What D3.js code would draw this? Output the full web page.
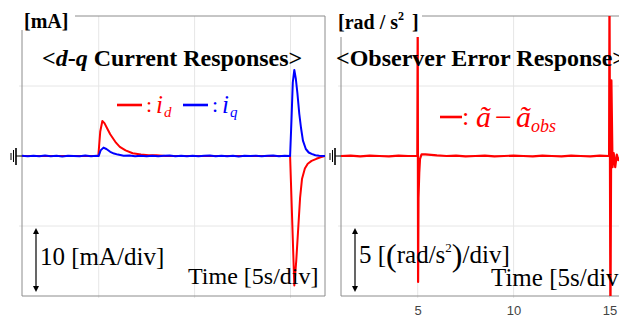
<!DOCTYPE html>
<html>
<head>
<meta charset="utf-8">
<script src="https://cdn.jsdelivr.net/npm/d3@7"></script>
<style>
  body { margin: 0; background: #fff; }
  svg { display: block; }
</style>
</head>
<body>
<svg width="619" height="321"></svg>
<script>
const svg = d3.select("svg");

// time axis shared by both scope panels [s]
const timeDomain = [1, 16.8];
const timeTicks = [5, 10, 15];

// left panel: d-q currents [mA], 10 mA/div
const currentDomain = [-20, 20];
const currentGrid = [-10, 0, 10];

const idTime = [1, 2, 3, 4, 4.98, 5.08, 5.19, 5.3, 5.45, 5.6, 5.75, 5.9, 6.1, 6.4, 6.77, 7.2, 7.6, 8.0, 8.5, 9, 10, 11, 12, 13, 14, 14.98,
  15.2, 15.3, 15.4, 15.5, 15.6, 15.75, 15.9, 16.1, 16.35, 16.6, 16.8];
const idValue = [0, 0, 0, 0, 0, 3.5, 5.0, 4.7, 3.9, 3.1, 2.5, 1.9, 1.3, 0.8, 0.4, 0.2, 0.1, 0.1, 0, 0, 0, 0, 0, 0, 0, 0,
  -18.5, -15, -10.5, -6, -3.3, -1.8, -1.1, -0.7, -0.4, -0.15, 0];

const iqTime = [1.0, 1.3, 1.6, 1.9, 2.2, 2.5, 2.8, 3.1, 3.4, 3.7, 4.0, 4.3, 4.6, 4.9, 5.0,
  5.1, 5.25, 5.4, 5.6, 5.8, 6.0, 6.3, 6.6, 6.9, 7.2, 7.5, 7.8, 8.1, 8.4, 8.7, 9.0, 9.3, 9.6, 9.9,
  10.2, 10.5, 10.8, 11.1, 11.4, 11.7, 12.0, 12.3, 12.6, 12.9, 13.2, 13.5, 13.8, 14.1, 14.4, 14.7, 14.98,
  15.05, 15.12, 15.2, 15.28, 15.36, 15.46, 15.55, 15.65, 15.8, 15.95, 16.1, 16.3, 16.5, 16.8];
const iqValue = [0.03, -0.05, 0.05, -0.03, 0.07, -0.05, 0.03, -0.07, 0.05, 0, -0.05, 0.07, -0.03, 0.03, 0,
  0.8, 1.2, 1.0, 0.6, 0.35, 0.2, 0.05, 0.07, -0.05, 0.05, -0.03, 0.05, -0.05, 0.03, 0.07, -0.05, 0.03, -0.03, 0.05,
  -0.05, 0.03, 0.07, -0.03, 0.05, -0.05, 0.03, -0.07, 0.05, 0, 0.05, -0.05, 0.03, 0.07, -0.03, 0.05, 0,
  5, 10.5, 12.3, 11, 9, 6, 4, 2.2, 1.0, 0.5, 0.3, 0.1, 0.05, 0];

// right panel: observer error [rad/s^2], 5 (rad/s^2)/div
const errDomain = [-10, 10];
const errGrid = [-5, 0, 5];

const errTime = [1.0, 1.5, 2.0, 2.5, 3.0, 3.5, 4.0, 4.5, 4.98, 5.0, 5.02, 5.04, 5.08, 5.12, 5.2, 5.4, 5.7, 6.0, 6.5,
  7, 7.5, 8, 8.5, 9, 9.5, 10, 10.5, 11, 11.5, 12, 12.5, 13, 13.5, 14, 14.5, 14.98,
  15.0, 15.05, 15.1, 15.16, 15.22, 15.3, 15.38, 15.46, 15.6, 16.0, 16.8];
const errValue = [0, 0.03, -0.03, 0.03, 0, -0.03, 0.03, 0, 0, 9.6, -9.0, -3.0, -1.2, -0.2, 0.12, 0.12, 0.08, 0.04, 0,
  0.03, -0.03, 0, 0.03, -0.03, 0, 0.03, 0, -0.03, 0.03, 0, -0.03, 0.03, 0, -0.03, 0.03, 0,
  12, -12, 5.4, -0.8, 0.2, -0.8, 0.1, -0.3, 0, 0, 0];

const serif = "'Liberation Serif', 'Times New Roman', serif";
const gridColor = "#e6e6e6";
const frameColor = "#8c8c8c";
const plotTop = 16, plotBottom = 296;

function drawPanel(cfg) {
  const g = svg.append("g");
  const x = d3.scaleLinear().domain(timeDomain).range([cfg.left, cfg.right]);
  const y = d3.scaleLinear().domain(cfg.yDomain).range([plotBottom, plotTop]);

  g.append("clipPath").attr("id", cfg.id)
    .append("rect")
    .attr("x", cfg.left).attr("y", plotTop)
    .attr("width", cfg.right - cfg.left).attr("height", plotBottom - plotTop);

  // grid
  g.selectAll(".vg").data(timeTicks).join("line")
    .attr("x1", d => x(d)).attr("x2", d => x(d))
    .attr("y1", plotTop).attr("y2", plotBottom + 2)
    .attr("stroke", gridColor);
  g.selectAll(".hg").data(cfg.yGrid).join("line")
    .attr("x1", cfg.left - 3).attr("x2", cfg.right)
    .attr("y1", d => y(d)).attr("y2", d => y(d))
    .attr("stroke", gridColor);

  // frame
  const frame = g.append("g").attr("stroke", frameColor).attr("fill", "none");
  frame.append("line").attr("x1", cfg.left).attr("x2", cfg.left).attr("y1", plotTop).attr("y2", plotBottom);
  frame.append("line").attr("x1", cfg.left).attr("x2", cfg.right).attr("y1", plotBottom).attr("y2", plotBottom);
  frame.append("line").attr("x1", cfg.left).attr("x2", cfg.right).attr("y1", plotTop).attr("y2", plotTop);
  frame.append("line").attr("x1", cfg.right).attr("x2", cfg.right).attr("y1", plotTop).attr("y2", plotBottom);

  // traces
  const line = d3.line().x(d => x(d[0])).y(d => y(d[1]));
  const traces = g.append("g").attr("clip-path", `url(#${cfg.id})`);
  cfg.series.forEach(s => {
    traces.append("path")
      .datum(d3.zip(s.time, s.value))
      .attr("d", line)
      .attr("fill", "none")
      .attr("stroke", s.color)
      .attr("stroke-width", s.width || 2)
      .attr("stroke-linejoin", "round");
  });

  // ground marker at the zero level
  const gx = cfg.left, gy = y(0);
  const gnd = g.append("g").attr("stroke", "#000");
  gnd.append("line").attr("x1", gx - 6).attr("x2", gx).attr("y1", gy).attr("y2", gy);
  gnd.append("line").attr("x1", gx - 6).attr("x2", gx - 6).attr("y1", gy - 8).attr("y2", gy + 9).attr("stroke-width", 1.6);
  gnd.append("line").attr("x1", gx - 8.5).attr("x2", gx - 8.5).attr("y1", gy - 6).attr("y2", gy + 6);
  gnd.append("line").attr("x1", gx - 11).attr("x2", gx - 11).attr("y1", gy - 3).attr("y2", gy + 4);

  // unit label on a white patch over the frame corner
  g.append("rect")
    .attr("x", cfg.left - 1).attr("y", 0)
    .attr("width", cfg.unitWidth).attr("height", cfg.unitHeight)
    .attr("fill", "#fff");

  // scale arrow
  const ax = cfg.left + 14, a0 = y(cfg.yGrid[0]) + 2, a1 = plotBottom - 4;
  const arr = g.append("g");
  arr.append("line").attr("x1", ax).attr("x2", ax).attr("y1", a0 + 4).attr("y2", a1 - 4)
    .attr("stroke", "#000").attr("stroke-width", 1.2);
  arr.append("path").attr("d", `M${ax},${a0}l-3,6h6z`).attr("fill", "#000");
  arr.append("path").attr("d", `M${ax},${a1}l-3,-6h6z`).attr("fill", "#000");

  return { g, x, y };
}

const left = drawPanel({
  id: "clipL", left: 22, right: 325,
  yDomain: currentDomain, yGrid: currentGrid,
  unitWidth: 54, unitHeight: 30,
  series: [
    { time: idTime, value: idValue, color: "#ff0000" },
    { time: iqTime, value: iqValue, color: "#0000ff" }
  ]
});

const right = drawPanel({
  id: "clipR", left: 341, right: 644,
  yDomain: errDomain, yGrid: errGrid,
  unitWidth: 82, unitHeight: 37,
  series: [
    { time: errTime, value: errValue, color: "#ff0000", width: 2.2 }
  ]
});

// tick labels under the right panel only
right.g.append("g")
  .attr("transform", `translate(0,${plotBottom})`)
  .call(d3.axisBottom(right.x).tickValues(timeTicks).tickSize(0).tickPadding(10))
  .call(a => a.select(".domain").remove())
  .call(a => a.selectAll("text")
    .attr("font-family", "'Liberation Sans', Arial, sans-serif")
    .attr("font-size", 13).attr("fill", "#444"));

// ---- texts ----
function txt(x, y, size, opts = {}) {
  return svg.append("text")
    .attr("x", x).attr("y", y)
    .attr("font-family", serif)
    .attr("font-size", size)
    .attr("font-weight", opts.bold ? "bold" : null)
    .attr("font-style", opts.italic ? "italic" : null)
    .attr("fill", opts.color || "#000");
}

txt(24, 28, 20, { bold: true }).text("[mA]");
const unitR = txt(338, 29, 20, { bold: true });
unitR.append("tspan").text("[rad / s");
unitR.append("tspan").attr("font-size", 12).attr("dy", -9).text("2");
unitR.append("tspan").attr("dy", 9).attr("dx", 3).text(" ]");

const titleL = txt(42, 66, 24, { bold: true });
titleL.append("tspan").text("<");
titleL.append("tspan").attr("font-style", "italic").text("d");
titleL.append("tspan").text("-");
titleL.append("tspan").attr("font-style", "italic").text("q");
titleL.append("tspan").text(" Current Responses>");

txt(336, 66, 24, { bold: true }).text("<Observer Error Response>");

// legend, left
function legendDash(x1, x2, yy, color) {
  svg.append("line").attr("x1", x1).attr("x2", x2).attr("y1", yy).attr("y2", yy)
    .attr("stroke", color).attr("stroke-width", 2.6);
}
legendDash(117, 142, 105, "#ff0000");
txt(146, 112, 22, { color: "#ff0000" }).text(":");
const lid = txt(156, 113, 25, { italic: true, color: "#ff0000" });
lid.append("tspan").text("i");
lid.append("tspan").attr("font-size", 15).attr("dy", 4).attr("dx", 1).text("d");

legendDash(183, 208, 105, "#0000ff");
txt(212, 112, 22, { color: "#0000ff" }).text(":");
const liq = txt(222, 113, 25, { italic: true, color: "#0000ff" });
liq.append("tspan").text("i");
liq.append("tspan").attr("font-size", 15).attr("dy", 4).attr("dx", 1).text("q");

// legend, right
legendDash(440, 462, 117, "#ff0000");
txt(462, 125, 26, { color: "#ff0000" }).text(":");
const lerr = txt(476, 127, 30, { italic: true, color: "#ff0000" });
lerr.append("tspan").text("ã");
lerr.append("tspan").attr("font-style", "normal").attr("dx", 4).text("−");
lerr.append("tspan").attr("dx", 4).text("ã");
lerr.append("tspan").attr("font-size", 18).attr("dy", 5).text("obs");

// per-division annotations
txt(40, 265, 25).text("10 [mA/div]");
txt(188, 284, 24).text("Time [5s/div]");

const divR = txt(359, 263, 25);
divR.append("tspan").text("5 [");
divR.append("tspan").attr("font-size", 32).attr("dy", 3).text("(");
divR.append("tspan").attr("dy", -3).text("rad/s");
divR.append("tspan").attr("font-size", 13).attr("dy", -11).text("2");
divR.append("tspan").attr("font-size", 32).attr("dy", 14).text(")");
divR.append("tspan").attr("dy", -3).text("/div]");
txt(491, 286, 25).text("Time [5s/div]");
</script>
</body>
</html>
